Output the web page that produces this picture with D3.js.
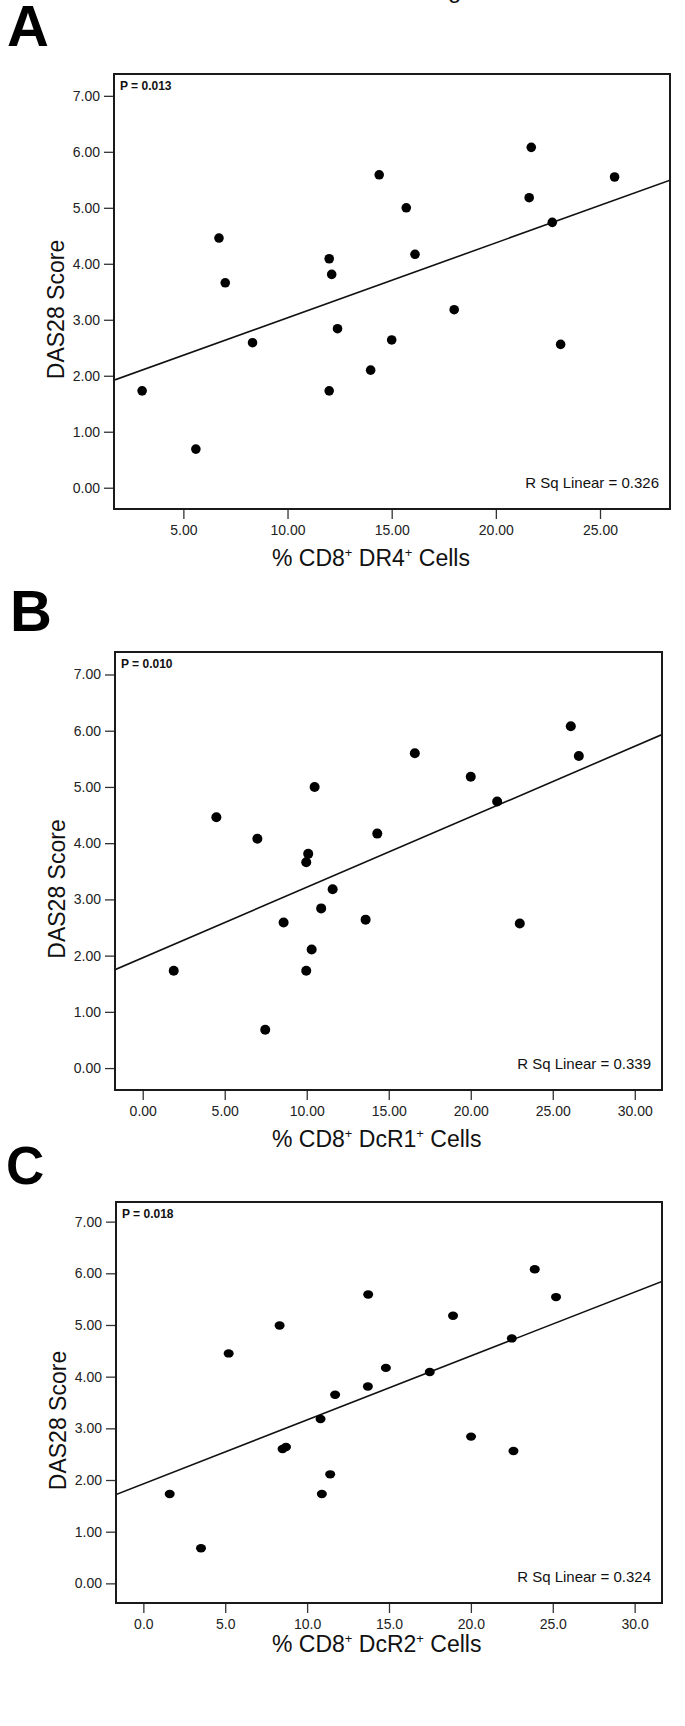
<!DOCTYPE html>
<html>
<head>
<meta charset="utf-8">
<script src="https://cdn.jsdelivr.net/npm/d3@7"></script>
<style>
  body { margin: 0; background: #fff; }
  svg { display: block; font-family: "Liberation Sans", Arial, sans-serif; }
</style>
</head>
<body>
<script>
// DAS28 score vs % of CD8+ subsets, one panel per marker
// values (20 patients each)

const dasTicks = [0, 1, 2, 3, 4, 5, 6, 7];

// A : % CD8+ DR4+ cells
const dr4X = [3.02, 5.60, 6.71, 7.01, 8.32, 12.00, 12.12, 12.40, 12.00, 14.40,
              15.70, 16.12, 18.00, 15.00, 13.99, 21.70, 21.60, 22.71, 23.11, 25.70];
const dr4Y = [1.73, 0.69, 4.46, 3.66, 2.59, 4.09, 3.81, 2.84, 1.73, 5.59,
              5.00, 4.17, 3.18, 2.64, 2.10, 6.08, 5.18, 4.74, 2.56, 5.55];
const dr4Ticks = [5, 10, 15, 20, 25];

// B : % CD8+ DcR1+ cells
const dcr1X = [1.89, 4.49, 6.99, 7.47, 8.59, 10.48, 10.09, 9.97, 11.58, 10.88,
               10.30, 9.97, 16.59, 14.30, 13.59, 20.00, 21.61, 22.99, 26.10, 26.59];
const dcr1Y = [1.73, 4.46, 4.08, 0.68, 2.59, 5.00, 3.81, 3.66, 3.18, 2.84,
               2.11, 1.73, 5.60, 4.17, 2.64, 5.18, 4.74, 2.57, 6.08, 5.55];
const dcr1Ticks = [0, 5, 10, 15, 20, 25, 30];

// C : % CD8+ DcR2+ cells
const dcr2X = [1.61, 3.52, 5.21, 8.32, 11.71, 10.82, 8.50, 8.71, 11.41, 10.90,
               13.73, 13.71, 14.81, 17.49, 18.91, 20.01, 22.50, 22.60, 23.90, 25.20];
const dcr2Y = [1.73, 0.68, 4.45, 4.99, 3.65, 3.18, 2.60, 2.64, 2.11, 1.73,
               5.59, 3.81, 4.17, 4.09, 5.18, 2.84, 4.74, 2.56, 6.08, 5.54];
const dcr2Ticks = [0, 5, 10, 15, 20, 25, 30];

const panelLetters = ["A", "B", "C"];
const pValues = ["P = 0.013", "P = 0.010", "P = 0.018"];
const rSquared = ["R Sq Linear = 0.326", "R Sq Linear = 0.339", "R Sq Linear = 0.324"];
// odd entries are superscripts
const xTitles = [
  ["% CD8", "+", " DR4", "+", " Cells"],
  ["% CD8", "+", " DcR1", "+", " Cells"],
  ["% CD8", "+", " DcR2", "+", " Cells"]
];
const yTitle = "DAS28 Score";

let svg = null;
const width = 685, height = 1726;

// layout of each framed plot, measured on the figure
const panels = [
  {xs: dr4X, ys: dr4Y, ticks: dr4Ticks, fmt: ".2f",
   left: 114, top: 74, right: 670, bottom: 509,
   xDomain: [1.67, 28.36], yDomain: [-0.38, 7.39],
   letterX: 7, letterY: 46, letterSize: 58, rx: 4.8, ry: 4.8, titleY: 566},
  {xs: dcr1X, ys: dcr1Y, ticks: dcr1Ticks, fmt: ".2f",
   left: 115, top: 652, right: 662, bottom: 1090,
   xDomain: [-1.69, 31.66], yDomain: [-0.39, 7.40],
   letterX: 10, letterY: 631, letterSize: 58, rx: 5, ry: 5, titleY: 1147},
  {xs: dcr2X, ys: dcr2Y, ticks: dcr2Ticks, fmt: ".1f",
   left: 116, top: 1202, right: 662, bottom: 1603,
   xDomain: [-1.67, 31.67], yDomain: [-0.38, 7.38],
   letterX: 6, letterY: 1184, letterSize: 53, rx: 5, ry: 4.2, titleY: 1652}
];

appendSvg("body");
appendHeader();
panels.forEach(drawPanel);

function appendSvg(domElement) {
  svg = d3.select(domElement).append("svg")
    .attr("width", width)
    .attr("height", height);

  svg.append("rect")
    .attr("width", width)
    .attr("height", height)
    .attr("fill", "#fff");
}

// the page title is cut off at the top of the figure, only the g tail shows
function appendHeader() {
  svg.append("text")
    .attr("x", 428)
    .attr("y", -2)
    .attr("font-size", 24)
    .attr("fill", "#111")
    .text("Figure 3");
}

function fitLine(xs, ys) {
  const mx = d3.mean(xs), my = d3.mean(ys);
  let sxy = 0, sxx = 0;
  xs.forEach((v, i) => {
    sxy += (v - mx) * (ys[i] - my);
    sxx += (v - mx) * (v - mx);
  });
  const slope = sxy / sxx;
  return {slope: slope, intercept: my - slope * mx};
}

function drawPanel(p, i) {
  const g = svg.append("g");

  const x = d3.scaleLinear().domain(p.xDomain).range([p.left, p.right]);
  const y = d3.scaleLinear().domain(p.yDomain).range([p.bottom, p.top]);

  // big panel letter
  g.append("text")
    .attr("x", p.letterX)
    .attr("y", p.letterY)
    .attr("font-size", p.letterSize)
    .attr("font-weight", "bold")
    .attr("fill", "#000")
    .text(panelLetters[i]);

  // Y axis
  const yAxis = g.append("g")
    .attr("transform", `translate(${p.left},0)`)
    .call(d3.axisLeft(y)
      .tickValues(dasTicks)
      .tickFormat(d3.format(".2f"))
      .tickSize(10)
      .tickPadding(4));
  styleAxis(yAxis);

  // X axis
  const xAxis = g.append("g")
    .attr("transform", `translate(0,${p.bottom})`)
    .call(d3.axisBottom(x)
      .tickValues(p.ticks)
      .tickFormat(d3.format(p.fmt))
      .tickSize(10)
      .tickPadding(6));
  styleAxis(xAxis);

  // axis titles
  g.append("text")
    .attr("transform", `translate(${p.left - 50},${(p.top + p.bottom) / 2 + 18}) rotate(-90)`)
    .attr("text-anchor", "middle")
    .attr("font-size", 23)
    .attr("fill", "#111")
    .text(yTitle);

  const title = g.append("text")
    .attr("x", 272)
    .attr("y", p.titleY)
    .attr("font-size", 23)
    .attr("fill", "#111");
  xTitles[i].forEach((part, k) => {
    const sup = k % 2 === 1;
    title.append("tspan")
      .attr("font-size", sup ? 13 : 23)
      .attr("dy", sup ? -9 : (k > 0 ? 9 : 0))
      .text(part);
  });

  // clip for the fit line
  const clipId = "clip" + i;
  g.append("clipPath").attr("id", clipId)
    .append("rect")
    .attr("x", p.left).attr("y", p.top)
    .attr("width", p.right - p.left)
    .attr("height", p.bottom - p.top);

  const fit = fitLine(p.xs, p.ys);
  const x0 = p.xDomain[0], x1 = p.xDomain[1];
  g.append("line")
    .attr("clip-path", `url(#${clipId})`)
    .attr("x1", x(x0))
    .attr("y1", y(fit.intercept + fit.slope * x0))
    .attr("x2", x(x1))
    .attr("y2", y(fit.intercept + fit.slope * x1))
    .attr("stroke", "#111")
    .attr("stroke-width", 1.6);

  // points
  g.selectAll("ellipse.pt")
    .data(p.xs.map((v, k) => ({x: v, y: p.ys[k]})))
    .enter()
    .append("ellipse")
    .attr("class", "pt")
    .attr("cx", d => x(d.x))
    .attr("cy", d => y(d.y))
    .attr("rx", p.rx)
    .attr("ry", p.ry)
    .attr("fill", "#000");

  // frame
  g.append("rect")
    .attr("x", p.left)
    .attr("y", p.top)
    .attr("width", p.right - p.left)
    .attr("height", p.bottom - p.top)
    .attr("fill", "none")
    .attr("stroke", "#1a1a1a")
    .attr("stroke-width", 2);

  // annotations
  g.append("text")
    .attr("x", p.left + 6)
    .attr("y", p.top + 16)
    .attr("font-size", 12)
    .attr("font-weight", "bold")
    .attr("fill", "#111")
    .text(pValues[i]);

  g.append("text")
    .attr("x", p.right - 11)
    .attr("y", p.bottom - 21)
    .attr("text-anchor", "end")
    .attr("font-size", 15)
    .attr("fill", "#111")
    .text(rSquared[i]);
}

function styleAxis(axis) {
  axis.select(".domain").remove();
  axis.attr("font-family", null).attr("font-size", 14);
  axis.selectAll(".tick line").attr("stroke", "#333").attr("stroke-width", 1.3);
  axis.selectAll(".tick text").attr("fill", "#222");
}
</script>
</body>
</html>
